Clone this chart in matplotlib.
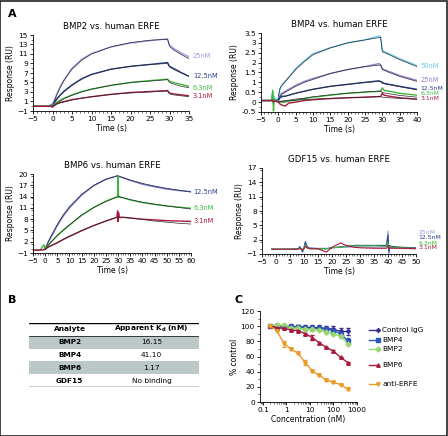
import numpy as np
import matplotlib.pyplot as plt
from matplotlib.patches import Rectangle
from matplotlib.ticker import MultipleLocator

# ---------------- data ----------------
# panel A1: BMP2 vs human ERFE
t_bmp2 = [-5, -3, -1, -0.5, 0, 0.5, 1, 2, 3, 5, 7.5, 10, 15, 20, 25, 29.5, 30, 31, 33, 35]
bmp2_25 = [0, 0, 0.1, 0.3, 0.5, 1.3, 2.4, 4.2, 5.6, 8.0, 9.9, 11.1, 12.5, 13.3, 13.8, 14.2, 12.9, 12.2, 11.2, 10.4]
bmp2_12 = [0, 0, 0, 0.1, 0.3, 0.9, 1.5, 2.4, 3.2, 4.5, 5.8, 6.7, 7.8, 8.4, 8.8, 9.2, 8.4, 8.0, 7.1, 6.3]
bmp2_6 = [0, 0, 0, 0, 0.2, 0.5, 0.8, 1.3, 1.7, 2.4, 3.1, 3.6, 4.4, 5.0, 5.4, 5.7, 5.3, 5.0, 4.6, 4.2]
bmp2_3 = [0, 0, 0, 0, -0.2, 0.2, 0.5, 0.8, 1.0, 1.4, 1.7, 2.0, 2.5, 2.9, 3.1, 3.3, 2.8, 2.6, 2.4, 2.2]
tf_bmp2 = [0, 0.5, 1, 2, 3, 5, 7.5, 10, 15, 20, 25, 29.5, 30, 31, 33, 35]
fit2_25 = [0, 1.1, 2.2, 4.0, 5.5, 7.8, 9.7, 11.0, 12.5, 13.4, 13.9, 14.1, 12.6, 11.9, 10.9, 10.0]
fit2_12 = [0, 0.7, 1.3, 2.3, 3.1, 4.4, 5.7, 6.7, 7.8, 8.4, 8.8, 9.0, 8.3, 7.8, 7.0, 6.3]
fit2_6 = [0, 0.3, 0.6, 1.1, 1.6, 2.3, 3.0, 3.6, 4.4, 5.0, 5.3, 5.6, 5.0, 4.7, 4.2, 3.9]
fit2_3 = [0, 0.2, 0.4, 0.7, 0.9, 1.3, 1.7, 2.0, 2.5, 2.8, 3.0, 3.2, 2.6, 2.4, 2.2, 2.0]

# panel A2: BMP4 vs human ERFE
t_bmp4 = [-5, -3, -2, -1.6, -1.4, -1.2, -1, 0, 0.5, 1, 2, 3, 5, 7.5, 10, 15, 20, 25, 29, 29.5, 30, 30.5, 32, 35, 40]
bmp4_50 = [0.08, 0.08, 0.08, 0.5, -0.1, 0.3, 0.1, 0.2, 0.7, 0.85, 1.05, 1.25, 1.7, 2.1, 2.45, 2.75, 3.0, 3.15, 3.35, 3.3, 2.65, 2.55, 2.45, 2.2, 1.85]
bmp4_25 = [0.08, 0.08, 0.08, 0.2, 0.05, 0.1, 0.08, 0.1, 0.35, 0.45, 0.55, 0.65, 0.85, 1.05, 1.2, 1.45, 1.65, 1.8, 1.95, 1.9, 1.7, 1.65, 1.55, 1.35, 1.1]
bmp4_12 = [0.08, 0.08, 0.08, 0.15, 0.0, 0.1, 0.08, 0.1, 0.25, 0.3, 0.3, 0.35, 0.45, 0.55, 0.65, 0.8, 0.9, 1.0, 1.08, 1.05, 1.0, 0.95, 0.9, 0.8, 0.65]
bmp4_6 = [0.08, 0.08, 0.08, 0.6, -0.45, 0.2, 0.05, 0.05, 0.0, 0.0, 0.0, 0.05, 0.1, 0.18, 0.25, 0.35, 0.45, 0.5, 0.55, 0.55, 0.72, 0.6, 0.55, 0.45, 0.35]
bmp4_3 = [0.08, 0.08, 0.08, 0.1, 0.0, 0.05, 0.05, 0.0, -0.1, -0.15, -0.2, -0.05, 0.0, 0.08, 0.12, 0.18, 0.22, 0.25, 0.28, 0.28, 0.45, 0.35, 0.3, 0.22, 0.15]
tf_bmp4 = [0, 0.5, 1, 2, 3, 5, 7.5, 10, 15, 20, 25, 29.5, 30, 32, 35, 40]
fit4_50 = [0.3, 0.7, 0.85, 1.05, 1.25, 1.65, 2.05, 2.4, 2.75, 3.0, 3.15, 3.28, 2.55, 2.4, 2.15, 1.8]
fit4_25 = [0.15, 0.3, 0.4, 0.5, 0.6, 0.8, 1.0, 1.15, 1.45, 1.65, 1.8, 1.88, 1.65, 1.5, 1.3, 1.05]
fit4_12 = [0.1, 0.2, 0.25, 0.3, 0.35, 0.45, 0.55, 0.65, 0.8, 0.9, 1.0, 1.05, 0.95, 0.88, 0.78, 0.62]
fit4_6 = [0.05, 0.05, 0.05, 0.08, 0.1, 0.15, 0.2, 0.27, 0.37, 0.45, 0.52, 0.56, 0.48, 0.42, 0.34, 0.25]
fit4_3 = [0.0, 0.02, 0.03, 0.05, 0.07, 0.1, 0.13, 0.15, 0.19, 0.22, 0.25, 0.28, 0.25, 0.22, 0.19, 0.15]

# panel A3: BMP6 vs human ERFE
t_bmp6 = [-5, -2, -0.5, 0, 0.3, 0.6, 1, 2, 5, 7.5, 10, 15, 20, 25, 29.5, 29.8, 30, 30.2, 30.5, 32, 35, 40, 45, 50, 55, 60]
bmp6_12 = [-0.3, -0.2, -0.1, 0, 0.5, 1.0, 1.5, 2.7, 6.3, 8.9, 11.0, 14.4, 16.9, 18.6, 19.5, 19.6, 19.5, 19.4, 19.3, 19.0, 18.3, 17.3, 16.6, 16.0, 15.6, 15.3]
bmp6_6 = [-0.3, -0.2, 1.2, 0, 0.3, 0.6, 0.9, 1.6, 3.6, 5.0, 6.4, 9.0, 11.1, 12.8, 13.9, 14.0, 19.5, 13.8, 13.9, 13.7, 13.1, 12.4, 11.9, 11.5, 11.2, 10.9]
bmp6_3 = [-0.3, -0.2, -0.1, 0, 0.1, 0.3, 0.5, 0.8, 1.7, 2.6, 3.4, 4.9, 6.3, 7.5, 8.5, 10.2, 7.3, 9.7, 8.4, 8.5, 8.3, 8.0, 7.8, 7.6, 7.5, 7.4]
tf_bmp6 = [0, 1, 2, 5, 7.5, 10, 15, 20, 25, 30, 35, 40, 45, 50, 55, 60]
fit6_12 = [0, 1.6, 3.0, 6.6, 9.2, 11.3, 14.6, 17.0, 18.6, 19.5, 18.4, 17.5, 16.8, 16.2, 15.7, 15.2]
fit6_6 = [0, 0.8, 1.6, 3.7, 5.2, 6.5, 9.1, 11.1, 12.7, 14.0, 13.2, 12.5, 12.0, 11.5, 11.1, 10.7]
fit6_3 = [0, 0.4, 0.8, 1.8, 2.7, 3.5, 5.0, 6.3, 7.5, 8.6, 8.3, 7.9, 7.5, 7.2, 6.9, 6.7]

# panel A4: GDF15 vs human ERFE
t_gdf = [-1.5, 0, 5, 8, 8.5, 9, 9.5, 10, 10.5, 11, 11.5, 12, 15, 18, 20, 23, 25, 28, 30, 35, 39.5, 40, 40.3, 40.6, 41, 45, 50]
gdf_25 = [0, 0, 0, 0.1, 0.6, 0.1, -0.3, 0.4, 1.6, 0.8, 0.4, 0.3, 0.2, 0.2, 0.3, 0.4, 0.4, 0.5, 0.5, 0.4, 0.5, 3.8, -0.9, 0.6, 0.3, 0.3, 0.2]
gdf_12 = [0, 0, 0, 0.1, 0.5, 0.0, -0.6, 0.3, 1.5, 0.6, 0.3, 0.2, 0.1, 0.1, 0.3, 0.5, 0.6, 0.8, 0.8, 0.8, 0.8, 3.0, -0.5, 0.8, 0.6, 0.4, 0.3]
gdf_6 = [0, 0, 0, 0.1, 0.3, 0.0, -0.2, 0.2, 1.0, 0.4, 0.2, 0.1, 0.1, 0.1, 0.3, 0.4, 0.6, 0.7, 0.7, 0.7, 0.6, 1.5, 0.2, 0.6, 0.4, 0.3, 0.2]
gdf_3 = [0, 0, 0, 0, 0.2, 0, 0, 0.1, 0.6, 0.3, 0.2, 0.1, 0.1, -0.6, 0.4, 1.3, 0.8, 0.4, 0.3, 0.2, 0.2, 0.8, 0.1, 0.3, 0.2, 0.2, 0.1]

# panel B: table
analytes = ["BMP2", "BMP4", "BMP6", "GDF15"]
kd_values = ["16.15", "41.10", "1.17", "No binding"]

# panel C: dose response
conc = [0.195, 0.39, 0.78, 1.56, 3.125, 6.25, 12.5, 25, 50, 100, 200, 400]
ctrl_igg = [100, 101, 100, 100, 99, 99, 98, 98, 97, 96, 93, 93]
ctrl_err = [1, 2, 2, 3, 3, 3, 3, 3, 3, 4, 4, 4]
bmp4_c = [100, 99, 99, 99, 99, 98, 97, 97, 96, 94, 90, 81]
bmp4_err = [1, 2, 2, 2, 2, 2, 2, 2, 3, 3, 3, 3]
bmp2_c = [100, 102, 101, 98, 97, 96, 96, 95, 92, 90, 87, 77]
bmp2_err = [1, 2, 2, 2, 2, 2, 2, 2, 2, 2, 2, 2]
bmp6_c = [100, 98, 97, 95, 94, 90, 85, 78, 72, 67, 59, 52]
bmp6_err = [1, 1, 1, 1, 1, 1, 3, 1, 1, 1, 1, 1]
anti_erfe = [100, 94, 77, 70, 64, 52, 41, 35, 29, 26, 23, 17]
anti_err = [1, 1, 4, 1, 1, 3, 1, 1, 1, 1, 1, 1]

# colours
c_lav = "#9a9ae6"
c_navy = "#27408f"
c_green = "#3db83d"
c_red = "#a8193c"
c_sky = "#6cc8ee"
c_purp = "#9b80d6"
c_fit = "#2a2a2a"

W, H = 448, 436
fig = plt.figure(figsize=(W / 100, H / 100), dpi=100)


def rect(x0, y0, x1, y1):
    # pixel box -> figure fraction
    return [x0 / W, 1 - y1 / H, (x1 - x0) / W, (y1 - y0) / H]


def style(ax, title, xlim, xt, ylim, yt, ymin):
    ax.set_xlim(xlim)
    ax.set_ylim(ylim)
    ax.set_xticks(xt)
    ax.set_yticks(yt)
    ax.xaxis.set_minor_locator(MultipleLocator(1))
    ax.yaxis.set_minor_locator(MultipleLocator(ymin))
    ax.tick_params(labelsize=5.3, length=2.2, width=0.6, pad=1.5)
    ax.tick_params(which="minor", length=1.2, width=0.4)
    for s in ["top", "right"]:
        ax.spines[s].set_visible(False)
    for s in ["left", "bottom"]:
        ax.spines[s].set_linewidth(0.6)
    ax.set_title(title, fontsize=6.2, pad=4)
    ax.set_xlabel("Time (s)", fontsize=5.5, labelpad=1.5)
    ax.set_ylabel("Response (RU)", fontsize=5.5, labelpad=1.5)


def label(ax, x, y, txt, col, fs=4.8):
    ax.text(x, y, txt, color=col, fontsize=fs, va="center", ha="left", clip_on=False)


# A1
ax1 = fig.add_axes(rect(33, 35, 189, 111))
for y, f, c in [(bmp2_25, fit2_25, c_lav), (bmp2_12, fit2_12, c_navy), (bmp2_6, fit2_6, c_green), (bmp2_3, fit2_3, c_red)]:
    ax1.plot(t_bmp2, y, color=c, lw=1.0)
    ax1.plot(tf_bmp2, f, color=c_fit, lw=0.5)
style(ax1, "BMP2 vs. human ERFE", (-5, 35), range(-5, 36, 5), (-1, 15), range(-1, 16, 2), 1)
label(ax1, 36, 10.6, "25nM", c_lav)
label(ax1, 36, 6.4, "12.5nM", c_navy)
label(ax1, 36, 3.8, "6.3nM", c_green)
label(ax1, 36, 2.2, "3.1nM", c_red)

# A2
ax2 = fig.add_axes(rect(261, 33, 417, 112))
for y, f, c in [(bmp4_50, fit4_50, c_sky), (bmp4_25, fit4_25, c_purp), (bmp4_12, fit4_12, c_navy), (bmp4_6, fit4_6, c_green), (bmp4_3, fit4_3, c_red)]:
    ax2.plot(t_bmp4, y, color=c, lw=1.0)
    ax2.plot(tf_bmp4, f, color=c_fit, lw=0.5)
style(ax2, "BMP4 vs. human ERFE", (-5, 40), range(-5, 41, 5), (-0.5, 3.5), np.arange(-0.5, 3.6, 0.5), 0.25)
ax2.set_yticklabels(["-0.5", "0", "0.5", "1", "1.5", "2", "2.5", "3", "3.5"])
label(ax2, 41, 1.85, "50nM", c_sky)
label(ax2, 41, 1.12, "25nM", c_purp)
label(ax2, 41, 0.70, "12.5nM", c_navy, 4.4)
label(ax2, 41, 0.43, "6.3nM", c_green, 4.4)
label(ax2, 41, 0.16, "3.1nM", c_red, 4.4)

# A3
ax3 = fig.add_axes(rect(33, 174, 191, 253))
for y, f, c in [(bmp6_12, fit6_12, "#6a6fd6"), (bmp6_6, fit6_6, c_green), (bmp6_3, fit6_3, c_red)]:
    ax3.plot(t_bmp6, y, color=c, lw=1.0)
    ax3.plot(tf_bmp6, f, color=c_fit, lw=0.5)
style(ax3, "BMP6 vs. human ERFE", (-5, 60), range(-5, 61, 5), (-1, 20), range(-1, 21, 3), 1.5)
label(ax3, 61, 15.3, "12.5nM", c_navy)
label(ax3, 61, 10.9, "6.3nM", c_green)
label(ax3, 61, 7.6, "3.1nM", c_red)

# A4
ax4 = fig.add_axes(rect(262, 168, 416, 254))
for y, c in [(gdf_25, c_lav), (gdf_12, c_navy), (gdf_6, c_green), (gdf_3, c_red)]:
    ax4.plot(t_gdf, y, color=c, lw=0.8)
style(ax4, "GDF15 vs. human ERFE", (-5, 50), range(-5, 51, 5), (-1, 17), range(-1, 18, 3), 1.5)
label(ax4, 51, 3.4, "25nM", c_lav, 4.4)
label(ax4, 51, 2.35, "12.5nM", c_navy, 4.4)
label(ax4, 51, 1.3, "6.3nM", c_green, 4.4)
label(ax4, 51, 0.26, "3.1nM", c_red, 4.4)

# B: table
axb = fig.add_axes(rect(29, 323, 199, 387))
axb.set_xlim(0, 1)
axb.set_ylim(5, 0)
axb.axis("off")
for i in range(len(analytes)):
    row = i + 1
    if i % 2 == 0:
        axb.add_patch(Rectangle((0, row), 1, 1, color="#bcc7c7", lw=0))
    axb.text(0.24, row + 0.5, analytes[i], ha="center", va="center", fontsize=5.3, fontweight="bold")
    axb.text(0.72, row + 0.5, kd_values[i], ha="center", va="center", fontsize=5.3)
axb.text(0.24, 0.5, "Analyte", ha="center", va="center", fontsize=5.3, fontweight="bold")
axb.text(0.72, 0.5, r"Apparent K$_\mathregular{d}$ (nM)", ha="center", va="center", fontsize=5.3, fontweight="bold")
axb.plot([0, 1], [0, 0], color="black", lw=1.0)
axb.plot([0, 1], [1, 1], color="black", lw=0.5)
axb.plot([0, 1], [5, 5], color="black", lw=1.0)

# C: dose response
axc = fig.add_axes(rect(260, 311, 357, 402))
series = [
    ("Control IgG", ctrl_igg, ctrl_err, "#3a2d8f", "P"),
    ("BMP4", bmp4_c, bmp4_err, "#2a57b8", "s"),
    ("BMP2", bmp2_c, bmp2_err, "#9ad66f", "D"),
    ("BMP6", bmp6_c, bmp6_err, "#a8193c", "^"),
    ("anti-ERFE", anti_erfe, anti_err, "#eb9a27", "v"),
]
for name, y, e, c, m in series:
    axc.errorbar(conc, y, yerr=e, color=c, marker=m, ms=2.5, lw=1.0, capsize=1.2, elinewidth=0.6, label=name)
axc.set_xscale("log")
axc.set_xlim(0.075, 1000)
axc.set_ylim(0, 120)
axc.set_yticks(range(0, 121, 20))
axc.yaxis.set_minor_locator(MultipleLocator(10))
axc.set_xticks([0.1, 1, 10, 100, 1000])
axc.set_xticklabels(["0.1", "1", "10", "100", "1000"])
axc.tick_params(labelsize=5.3, length=2.2, width=0.6, pad=1.5)
axc.tick_params(which="minor", length=1.2, width=0.4)
for s in ["top", "right"]:
    axc.spines[s].set_visible(False)
for s in ["left", "bottom"]:
    axc.spines[s].set_linewidth(0.6)
axc.set_xlabel("Concentration (nM)", fontsize=5.5, labelpad=1.5)
axc.set_ylabel("% control", fontsize=5.5, labelpad=1.5)

# legend drawn as separate rows to match uneven spacing
leg_y = [330, 340, 349, 365, 384]
for (name, y, e, c, m), py in zip(series, leg_y):
    fy = 1 - py / H
    fig.add_artist(plt.Line2D([369 / W, 378 / W], [fy, fy], color=c, lw=1.0, marker=m, ms=2.5, markevery=[1]))
    fig.text(382 / W, fy, name, fontsize=5.3, va="center", ha="left")

# panel letters
fig.text(8 / W, 1 - 14 / H, "A", fontsize=8, fontweight="bold", va="center")
fig.text(8 / W, 1 - 300 / H, "B", fontsize=8, fontweight="bold", va="center")
fig.text(234 / W, 1 - 300 / H, "C", fontsize=8, fontweight="bold", va="center")

# frame round the figure
fig.add_artist(Rectangle((0.001, 0.001), 0.997, 0.997, transform=fig.transFigure, fill=False, lw=1.2, color="#222222"))

fig.savefig("out.png", dpi=100)
